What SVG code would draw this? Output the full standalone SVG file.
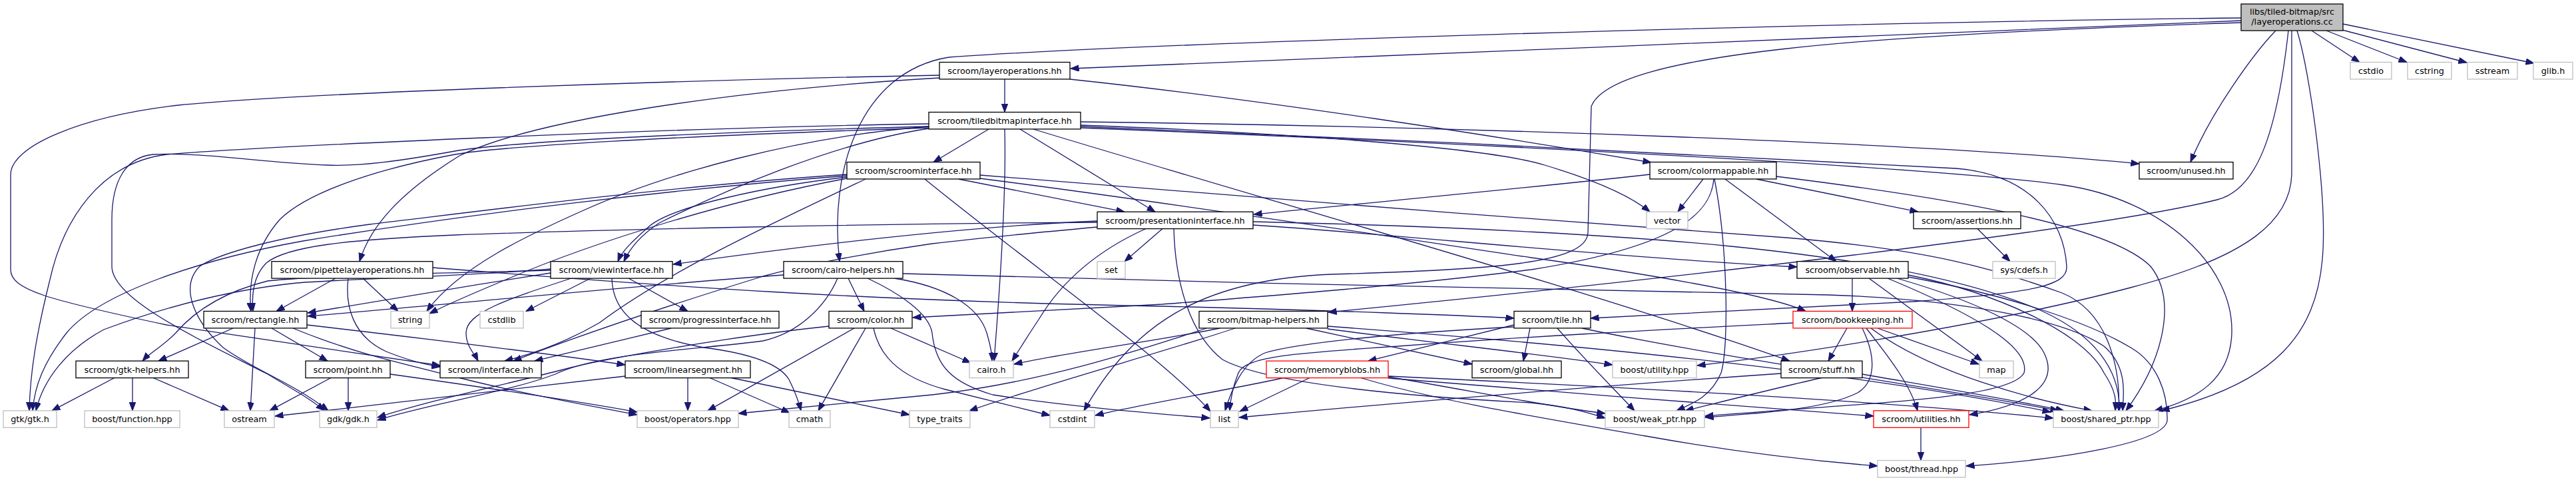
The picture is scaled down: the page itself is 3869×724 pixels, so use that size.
<svg xmlns="http://www.w3.org/2000/svg" width="3869" height="724" viewBox="0 0 3869 724">
<defs>
<style>
.d rect{fill:#fff;stroke:#000;stroke-width:1.3}
.u rect{fill:#fff;stroke:#bfbfbf;stroke-width:1.3}
.r rect{fill:#fff;stroke:#f00;stroke-width:1.3}
text{font-family:"DejaVu Sans","Liberation Sans",sans-serif;font-size:12.8px;text-anchor:middle;fill:#000}
#edges path{fill:none;stroke:#191970;stroke-width:1.3;marker-end:url(#ah)}
</style>
<marker id="ah" markerUnits="userSpaceOnUse" markerWidth="14" markerHeight="11" refX="12.5" refY="4.7" orient="auto"><path d="M0,0 L12.5,4.7 L0,9.4 z" fill="#191970" stroke="#191970" stroke-width="1"/></marker>
</defs>
<rect x="0" y="0" width="3869" height="724" fill="#fff"/>
<g id="edges">
<path d="M3366,31 C3000,44 2100,85 1608,103"/>
<path d="M3472,46 L3544,93.5"/>
<path d="M3494,46 L3615,93.5"/>
<path d="M3518,45 L3705,94"/>
<path d="M3519,36 L3806,95"/>
<path d="M3418,46 C3385,80 3320,170 3290,243.5"/>
<path d="M3366,27 C2700,34 1700,66 1425,86 C1290,108 1245,260 1261,392.7"/>
<path d="M3366,34 C2800,52 2420,80 2390,160 L2385,350 C2382,395 2250,405 2000,412 C1800,420 1700,490 1628,616.9"/>
<path d="M3450,46 C3470,110 3496,300 3488,390 C3478,500 3420,575 3246,617"/>
<path d="M3437,46 C3420,200 3390,285 3330,300 C3150,345 2500,420 1995,469"/>
<path d="M3442,46 L3442,262 C3440,330 3380,385 3200,432 C3000,485 2700,532 2549,549"/>
<path d="M1509,119 L1509,168.5"/>
<path d="M1607,119 C1900,150 2250,205 2480,244"/>
<path d="M1411,117 C1100,135 800,180 690,234 C600,290 556,340 540,392.7"/>
<path d="M1411,113 C1000,121 450,140 268,158 C120,175 16,220 16,262 L16,405 C16,435 70,450 250,488 L661,549"/>
<path d="M1485,194 L1402,243.5"/>
<path d="M1509,194 C1512,300 1498,480 1493,542.2"/>
<path d="M1532,194 L1735,318.2"/>
<path d="M1552,194 C1900,300 2400,440 2688,542.2"/>
<path d="M1623,183 C2200,190 2900,215 3213,246"/>
<path d="M1623,188 C1900,198 2230,220 2320,248 C2400,272 2450,295 2478,318.2"/>
<path d="M1623,190 C2000,205 2700,238 2938,253 C3050,262 3100,330 3104,400 C3106,430 3050,440 2874,453 L2389,478"/>
<path d="M1623,192 C2200,215 2900,250 3100,278 C3250,300 3355,400 3352,500 C3350,570 3300,600 3236,617"/>
<path d="M1395,186 C1000,192 400,220 250,232 C150,245 95,330 75,420 C55,500 45,560 44,616.9"/>
<path d="M1395,190 C1000,200 750,215 683,227 C600,242 540,250 491,248 C400,245 300,228 230,232 C190,236 168,270 168,330 L168,400 C168,450 300,510 402,562 C440,585 468,600 487,616.9"/>
<path d="M1395,192 C1000,205 750,220 683,232 C560,255 460,290 420,330 C385,370 372,420 377,467.5"/>
<path d="M1395,193 C1250,215 1080,290 990,335 C960,355 945,375 937,392.7"/>
<path d="M1395,190 C1200,205 1000,260 874,317 C800,350 690,400 641,467.5"/>
<path d="M1440,269 L1689,318.2"/>
<path d="M1272,266 C1150,280 1010,310 975,340 C955,358 935,375 928,392.7"/>
<path d="M1300,269 C1150,340 1000,410 900,485 C840,520 785,535 758,542.2"/>
<path d="M1389,269 C1550,400 1750,540 1818,618"/>
<path d="M1272,264 C1000,285 700,322 455,362 C300,390 150,440 100,500 C65,545 52,580 49,616.9"/>
<path d="M1272,262 C1000,280 700,320 555,337 C420,355 330,380 300,400 C270,430 290,480 335,522 C380,555 440,575 493,616.9"/>
<path d="M1272,268 C1100,300 900,360 760,420 C700,445 670,458 645,471"/>
<path d="M1472,263 C1800,290 2300,330 2683,357 C2900,375 3000,405 3097,440 C3170,470 3185,560 3182,617"/>
<path d="M1472,268 C1800,310 2150,365 2300,387 C2450,408 2650,440 2712,467.5"/>
<path d="M2478,262 C2300,282 2050,305 1883,322"/>
<path d="M2558,269 L2520,318.2"/>
<path d="M2638,269 L2881,318.2"/>
<path d="M2591,269 L2758,392.7"/>
<path d="M2575,269 C2595,370 2597,520 2585,560 C2570,595 2545,605 2518,616.9"/>
<path d="M2574,269 C2570,320 2520,370 2300,405 C2100,430 1900,445 1746,457 C1600,465 1450,472 1371,477"/>
<path d="M2668,265 C2950,300 3170,340 3230,400 C3270,450 3250,540 3193,616.9"/>
<path d="M2970,343.5 L3019,392.7"/>
<path d="M2782,418 L2782,467.5"/>
<path d="M2807,418 L2977,542.2"/>
<path d="M2849,418 C2960,450 3050,490 3070,530 C3095,580 3040,610 2958,623"/>
<path d="M2866,413 C3000,440 3130,500 3160,560 C3180,590 3178,605 3177,616.9"/>
<path d="M2835,418 C2960,470 3050,520 3040,560 C3020,600 2800,605 2561,625"/>
<path d="M2866,416 C3000,440 3130,480 3200,522 C3240,545 3256,590 3255,632 C3250,665 3100,690 2953,700"/>
<path d="M2774,493 L2746,542.2"/>
<path d="M2820,493 L2972,547"/>
<path d="M2803,493 C2840,540 2870,580 2880,616.9"/>
<path d="M2797,493 C2820,540 2815,575 2790,590 C2740,615 2650,620 2561,627"/>
<path d="M2810,493 C2900,560 3050,600 3142,616.9"/>
<path d="M2693,485 C2500,495 2300,505 2100,520 C1950,530 1870,535 1860,560 C1852,580 1848,600 1847,616.9"/>
<path d="M2736,567.5 C2680,580 2600,600 2531,616.9"/>
<path d="M2797,562 C2900,580 3020,600 3100,616.9"/>
<path d="M2675,561 C2400,580 2100,605 1861,627"/>
<path d="M2298,493 L2288,542.2"/>
<path d="M2274,488 L2055,542.2"/>
<path d="M2339,493 C2380,540 2420,580 2455,616.9"/>
<path d="M2376,493 C2600,540 2900,580 3092,616.9"/>
<path d="M2274,491 C2100,500 1950,515 1900,530 C1865,545 1850,585 1840,616.9"/>
<path d="M1967,567.5 L1862,618"/>
<path d="M1928,567.5 C1850,585 1700,610 1645,624"/>
<path d="M2085,566 C2200,585 2320,610 2411,621"/>
<path d="M2085,565 C2400,580 2800,600 3084,628"/>
<path d="M2085,568 C2300,585 2600,610 2814,625"/>
<path d="M2044,567.5 C2150,600 2300,625 2472,655 C2600,678 2720,692 2820,700"/>
<path d="M1832,493 C1750,510 1600,530 1523,547"/>
<path d="M1855,493 C1760,525 1560,580 1456,616.9"/>
<path d="M1962,493 L2211,547"/>
<path d="M1994,494 C2150,515 2300,530 2422,548"/>
<path d="M1812,493 C1700,530 1560,575 1400,593 C1280,605 1180,614 1109,621"/>
<path d="M1994,490 C2400,520 2800,560 3080,619"/>
<path d="M1338,493 L1458,545"/>
<path d="M1245,490 C1100,505 900,540 842,556 C750,580 650,600 567,627"/>
<path d="M1283,493 L1063,616.9"/>
<path d="M1300,493 L1229,616.9"/>
<path d="M1312,493 C1320,530 1345,565 1420,585 C1480,600 1540,615 1577,624"/>
<path d="M1274,418 L1298,467.5"/>
<path d="M1177,413 C1000,425 700,455 462,475"/>
<path d="M1258,418 C1240,460 1200,500 1146,512 C1050,525 900,530 834,562 C760,590 650,605 567,631"/>
<path d="M1343,418 C1420,430 1470,460 1482,500 C1488,520 1490,530 1490,542.2"/>
<path d="M1303,418 C1350,440 1395,470 1400,500 C1405,550 1430,575 1491,593 C1600,610 1720,620 1817,628"/>
<path d="M1356,411 C1800,425 2500,438 2746,443 C2950,450 3100,480 3160,520 C3195,550 3190,590 3188,617"/>
<path d="M887,418 L790,467.5"/>
<path d="M944,418 L1033,467.5"/>
<path d="M919,418 C920,470 960,505 1057,522 C1120,530 1170,545 1185,570 C1195,590 1200,605 1203,616.9"/>
<path d="M858,418 C760,450 700,470 700,500 C700,520 712,530 718,542.2"/>
<path d="M827,410 C700,430 550,455 462,470"/>
<path d="M827,406 C700,410 500,412 402,422 C330,440 290,470 264,500 C245,520 225,530 214,542.2"/>
<path d="M827,404 C700,415 500,420 446,425 C350,435 250,460 156,495 C100,525 65,570 54,616.9"/>
<path d="M1746,343.5 L1689,392.7"/>
<path d="M1648,332 C1450,340 1200,370 1011,397"/>
<path d="M1648,334 C1300,336 900,345 683,353 C520,360 430,370 400,395 C380,415 378,445 380,467.5"/>
<path d="M1721,343.5 C1640,380 1590,430 1560,480 C1540,510 1528,530 1520,542.2"/>
<path d="M1648,341 C1550,350 1450,360 1400,366 C1300,380 1200,400 1146,415 C1000,460 880,500 771,542.2"/>
<path d="M1882,338 C2100,352 2400,385 2699,401"/>
<path d="M1763,343.5 C1765,420 1785,500 1836,540 C1900,575 2100,595 2300,605 C2350,610 2380,618 2411,628"/>
<path d="M1882,333 C2200,340 2450,355 2600,370 C2800,390 2950,420 3050,460 C3150,500 3185,560 3183,616.9"/>
<path d="M504,418 L415,467.5"/>
<path d="M545,418 L598,467.5"/>
<path d="M523,418 C518,460 530,505 580,528 C610,540 640,548 661,551"/>
<path d="M650,402 C1000,430 1300,452 1746,460 C2000,466 2200,474 2274,478"/>
<path d="M350,493 L238,542.2"/>
<path d="M383,493 L376,616.9"/>
<path d="M408,493 L492,542.2"/>
<path d="M440,493 C530,530 600,545 700,570 C800,595 900,612 957,623"/>
<path d="M461,488 C650,510 850,535 939,548"/>
<path d="M172,567.5 L78,616.9"/>
<path d="M199,567.5 L199,616.9"/>
<path d="M230,567.5 L344,616.9"/>
<path d="M497,567.5 L405,616.9"/>
<path d="M523,567.5 L523,616.9"/>
<path d="M586,562 C750,585 880,605 957,619"/>
<path d="M1033,567.5 L1033,616.9"/>
<path d="M1066,567.5 L1186,620"/>
<path d="M1098,567.5 L1366,623"/>
<path d="M939,565 C800,580 600,605 413,625"/>
<path d="M1008,493 L803,542.2"/>
<path d="M2885,642.3 L2885,691.6"/>
</g>
<g id="root"><rect x="3366" y="6" width="153" height="40" fill="#bfbfbf" stroke="#000" stroke-width="1.3"/><text x="3442.5" y="21.5">libs/tiled-bitmap/src</text><text x="3442.5" y="36.5">/layeroperations.cc</text></g>
<g id="layerops" class="d"><rect x="1411" y="93.5" width="196" height="25.4"/><text x="1509" y="110.8">scroom/layeroperations.hh</text></g>
<g id="cstdio" class="u"><rect x="3530" y="93.5" width="62" height="25.4"/><text x="3561" y="110.8">cstdio</text></g>
<g id="cstring" class="u"><rect x="3616" y="93.5" width="66" height="25.4"/><text x="3649" y="110.8">cstring</text></g>
<g id="sstream" class="u"><rect x="3706" y="93.5" width="75" height="25.4"/><text x="3743.5" y="110.8">sstream</text></g>
<g id="glib" class="u"><rect x="3805" y="93.5" width="59" height="25.4"/><text x="3834.5" y="110.8">glib.h</text></g>
<g id="tbi" class="d"><rect x="1395" y="168.5" width="228" height="25.4"/><text x="1509" y="185.8">scroom/tiledbitmapinterface.hh</text></g>
<g id="scroomif" class="d"><rect x="1272" y="243.5" width="200" height="25.4"/><text x="1372" y="260.8">scroom/scroominterface.hh</text></g>
<g id="colormap" class="d"><rect x="2478" y="243.5" width="190" height="25.4"/><text x="2573" y="260.8">scroom/colormappable.hh</text></g>
<g id="unused" class="d"><rect x="3213" y="243.5" width="141" height="25.4"/><text x="3283.5" y="260.8">scroom/unused.hh</text></g>
<g id="presif" class="d"><rect x="1648" y="318.2" width="234" height="25.4"/><text x="1765" y="335.5">scroom/presentationinterface.hh</text></g>
<g id="vector" class="u"><rect x="2473" y="318.2" width="62" height="25.4"/><text x="2504" y="335.5">vector</text></g>
<g id="assertions" class="d"><rect x="2874" y="318.2" width="161" height="25.4"/><text x="2954.5" y="335.5">scroom/assertions.hh</text></g>
<g id="pipette" class="d"><rect x="408" y="392.7" width="242" height="25.4"/><text x="529" y="410">scroom/pipettelayeroperations.hh</text></g>
<g id="viewif" class="d"><rect x="827" y="392.7" width="183" height="25.4"/><text x="918.5" y="410">scroom/viewinterface.hh</text></g>
<g id="cairohelp" class="d"><rect x="1177" y="392.7" width="179" height="25.4"/><text x="1266.5" y="410">scroom/cairo-helpers.hh</text></g>
<g id="set" class="u"><rect x="1648" y="392.7" width="42" height="25.4"/><text x="1669" y="410">set</text></g>
<g id="observable" class="d"><rect x="2699" y="392.7" width="167" height="25.4"/><text x="2782.5" y="410">scroom/observable.hh</text></g>
<g id="cdefs" class="u"><rect x="2993" y="392.7" width="94" height="25.4"/><text x="3040" y="410">sys/cdefs.h</text></g>
<g id="rectangle" class="d"><rect x="306" y="467.5" width="155" height="25.4"/><text x="383.5" y="484.8">scroom/rectangle.hh</text></g>
<g id="string" class="u"><rect x="587" y="467.5" width="58" height="25.4"/><text x="616" y="484.8">string</text></g>
<g id="cstdlib" class="u"><rect x="721" y="467.5" width="65" height="25.4"/><text x="753.5" y="484.8">cstdlib</text></g>
<g id="progressif" class="d"><rect x="963" y="467.5" width="207" height="25.4"/><text x="1066.5" y="484.8">scroom/progressinterface.hh</text></g>
<g id="color" class="d"><rect x="1245" y="467.5" width="125" height="25.4"/><text x="1307.5" y="484.8">scroom/color.hh</text></g>
<g id="bitmaphelp" class="d"><rect x="1801" y="467.5" width="193" height="25.4"/><text x="1897.5" y="484.8">scroom/bitmap-helpers.hh</text></g>
<g id="tile" class="d"><rect x="2274" y="467.5" width="115" height="25.4"/><text x="2331.5" y="484.8">scroom/tile.hh</text></g>
<g id="bookkeeping" class="r"><rect x="2693" y="467.5" width="179" height="25.4"/><text x="2782.5" y="484.8">scroom/bookkeeping.hh</text></g>
<g id="gtkhelpers" class="d"><rect x="114" y="542.2" width="169" height="25.4"/><text x="198.5" y="559.5">scroom/gtk-helpers.hh</text></g>
<g id="point" class="d"><rect x="459" y="542.2" width="127" height="25.4"/><text x="522.5" y="559.5">scroom/point.hh</text></g>
<g id="interface" class="d"><rect x="661" y="542.2" width="152" height="25.4"/><text x="737" y="559.5">scroom/interface.hh</text></g>
<g id="linearseg" class="d"><rect x="939" y="542.2" width="188" height="25.4"/><text x="1033" y="559.5">scroom/linearsegment.hh</text></g>
<g id="cairoh" class="u"><rect x="1456" y="542.2" width="66" height="25.4"/><text x="1489" y="559.5">cairo.h</text></g>
<g id="memblobs" class="r"><rect x="1902" y="542.2" width="183" height="25.4"/><text x="1993.5" y="559.5">scroom/memoryblobs.hh</text></g>
<g id="global" class="d"><rect x="2211" y="542.2" width="134" height="25.4"/><text x="2278" y="559.5">scroom/global.hh</text></g>
<g id="utility" class="u"><rect x="2422" y="542.2" width="126" height="25.4"/><text x="2485" y="559.5">boost/utility.hpp</text></g>
<g id="stuff" class="d"><rect x="2675" y="542.2" width="122" height="25.4"/><text x="2736" y="559.5">scroom/stuff.hh</text></g>
<g id="map" class="u"><rect x="2973" y="542.2" width="51" height="25.4"/><text x="2998.5" y="559.5">map</text></g>
<g id="gtkh" class="u"><rect x="5" y="616.9" width="80" height="25.4"/><text x="45" y="634.2">gtk/gtk.h</text></g>
<g id="function" class="u"><rect x="127" y="616.9" width="143" height="25.4"/><text x="198.5" y="634.2">boost/function.hpp</text></g>
<g id="ostream" class="u"><rect x="337" y="616.9" width="75" height="25.4"/><text x="374.5" y="634.2">ostream</text></g>
<g id="gdkh" class="u"><rect x="480" y="616.9" width="86" height="25.4"/><text x="523" y="634.2">gdk/gdk.h</text></g>
<g id="operators" class="u"><rect x="957" y="616.9" width="152" height="25.4"/><text x="1033" y="634.2">boost/operators.hpp</text></g>
<g id="cmath" class="u"><rect x="1185" y="616.9" width="62" height="25.4"/><text x="1216" y="634.2">cmath</text></g>
<g id="typetraits" class="u"><rect x="1366" y="616.9" width="91" height="25.4"/><text x="1411.5" y="634.2">type_traits</text></g>
<g id="cstdint" class="u"><rect x="1577" y="616.9" width="67" height="25.4"/><text x="1610.5" y="634.2">cstdint</text></g>
<g id="list" class="u"><rect x="1818" y="616.9" width="42" height="25.4"/><text x="1839" y="634.2">list</text></g>
<g id="weakptr" class="u"><rect x="2411" y="616.9" width="149" height="25.4"/><text x="2485.5" y="634.2">boost/weak_ptr.hpp</text></g>
<g id="utilities" class="r"><rect x="2814" y="616.9" width="143" height="25.4"/><text x="2885.5" y="634.2">scroom/utilities.hh</text></g>
<g id="sharedptr" class="u"><rect x="3084" y="616.9" width="158" height="25.4"/><text x="3163" y="634.2">boost/shared_ptr.hpp</text></g>
<g id="thread" class="u"><rect x="2820" y="691.6" width="132" height="25.4"/><text x="2886" y="708.9">boost/thread.hpp</text></g>
</svg>
